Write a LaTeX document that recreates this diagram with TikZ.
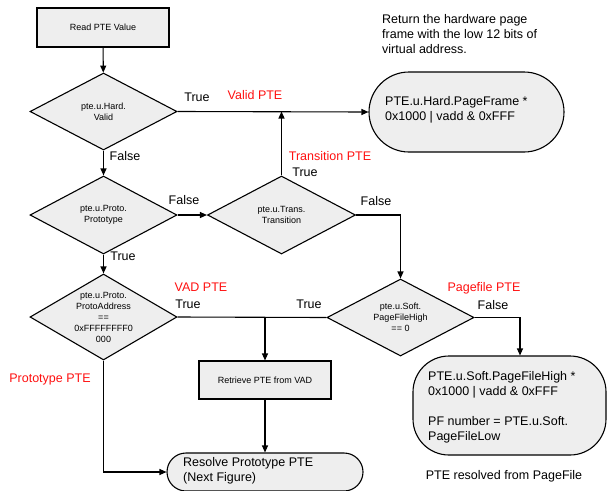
\documentclass[tikz,border=0pt]{standalone}
\usepackage{fontspec}
\setmainfont{Liberation Sans}
\usetikzlibrary{shapes.geometric,arrows.meta}
\definecolor{boxfill}{HTML}{EEEEEE}
\definecolor{notered}{HTML}{FF1010}
\tikzset{
  flow/.style={line width=1.1pt, draw=black},
  arr/.style={flow, -{Triangle[length=7pt,width=6pt]}},
  stepbox/.style={draw, line width=1.1pt, fill=boxfill, rectangle, inner sep=0pt,
    font=\fontsize{9}{11}\selectfont},
  test/.style={draw, line width=1.1pt, fill=boxfill, diamond, inner sep=0pt},
  testtxt/.style={align=center, font=\fontsize{9}{11}\selectfont, inner sep=0pt},
  endbox/.style={draw, line width=1.1pt, fill=boxfill, rectangle, inner sep=0pt},
  endtxt/.style={align=left, font=\fontsize{12.5}{15}\selectfont, inner sep=0pt, anchor=north west},
  lbl/.style={font=\fontsize{12.5}{15}\selectfont, inner sep=0pt},
  red/.style={lbl, text=notered},
}
\begin{document}
\begin{tikzpicture}[x=1pt,y=-1pt]
\useasboundingbox (0,0) rectangle (607,490);
\clip (0,0) rectangle (607,490);

% process boxes
\node[stepbox, minimum width=132pt, minimum height=39pt] (read) at (103,27.5) {Read PTE Value};
\node[stepbox, minimum width=132pt, minimum height=38pt] (vad) at (265,380) {Retrieve PTE from VAD};

% decisions
\node[test, minimum width=147pt, minimum height=77pt] (hard) at (103.5,111.5) {};
\node[testtxt] at (hard) {pte.u.Hard.\\Valid};
\node[test, minimum width=147pt, minimum height=78pt] (proto) at (103.5,215) {};
\node[testtxt] at (proto) {pte.u.Proto.\\Prototype};
\node[test, minimum width=148pt, minimum height=78pt] (trans) at (281.5,215) {};
\node[testtxt] at (trans) {pte.u.Trans.\\Transition};
\node[test, minimum width=147pt, minimum height=86pt] (addr) at (103.5,317) {};
\node[testtxt] at (addr) {pte.u.Proto.\\ProtoAddress\\==\\0xFFFFFFFF0\\000};
\node[test, minimum width=147pt, minimum height=77pt] (soft) at (400.5,317.5) {};
\node[testtxt] at (soft) {pte.u.Soft.\\PageFileHigh\\== 0};

% terminal shapes
\node[endbox, rounded corners=40pt, minimum width=195pt, minimum height=80pt] (frame) at (466.5,112) {};
\node[endtxt] at (385,96.5) {PTE.u.Hard.PageFrame *\\0x1000 | vadd \& 0xFFF};
\node[endbox, rounded corners=36pt, minimum width=193pt, minimum height=99pt] (pfile) at (509.5,405.5) {};
\node[endtxt] at (428,371) {PTE.u.Soft.PageFileHigh *\\0x1000 | vadd \& 0xFFF\\[15pt]PF number = PTE.u.Soft.\\PageFileLow};
\node[endbox, rounded corners=19pt, minimum width=196pt, minimum height=38pt] (resolve) at (265,472) {};
\node[endtxt] at (183,457) {Resolve Prototype PTE\\(Next Figure)};

% junctions
\coordinate (tj) at (281.5,111.5);
\coordinate (vj) at (265,317);

% connectors
\draw[arr] (read) -- (hard);
\draw[arr] (hard.east) -- (frame.west);
\draw[arr] (hard.south) -- (proto.north);
\draw[arr] (proto.east) -- (trans.west);
\draw[arr] (trans.north) -- (tj);
\draw[arr] (trans.east) -| (soft.north);
\draw[arr] (proto.south) -- (addr.north);
\draw[flow] (addr.east) -- (soft.west);
\draw[arr] (vj) -- (vad.north);
\draw[arr] (vad.south) -- (resolve.north);
\draw[arr] (addr.south) |- (resolve.west);
\draw[arr] (soft.east) -| ([xshift=10.5pt]pfile.north);

% branch labels
\node[lbl] at (197,97) {True};
\node[red] at (255,95) {Valid PTE};
\node[lbl] at (125,156) {False};
\node[lbl] at (184,200) {False};
\node[red] at (330,156) {Transition PTE};
\node[lbl] at (305,172) {True};
\node[lbl] at (376,201) {False};
\node[lbl] at (123,256) {True};
\node[red] at (201,287) {VAD PTE};
\node[lbl] at (188,304) {True};
\node[lbl] at (309,304) {True};
\node[red] at (484,288) {Pagefile PTE};
\node[lbl] at (493,305) {False};
\node[red] at (50,379) {Prototype PTE};
\node[lbl] at (504,476) {PTE resolved from PageFile};
\node[lbl, align=left, anchor=north west] at (382,14) {Return the hardware page\\frame with the low 12 bits of\\virtual address.};
\end{tikzpicture}
\end{document}
